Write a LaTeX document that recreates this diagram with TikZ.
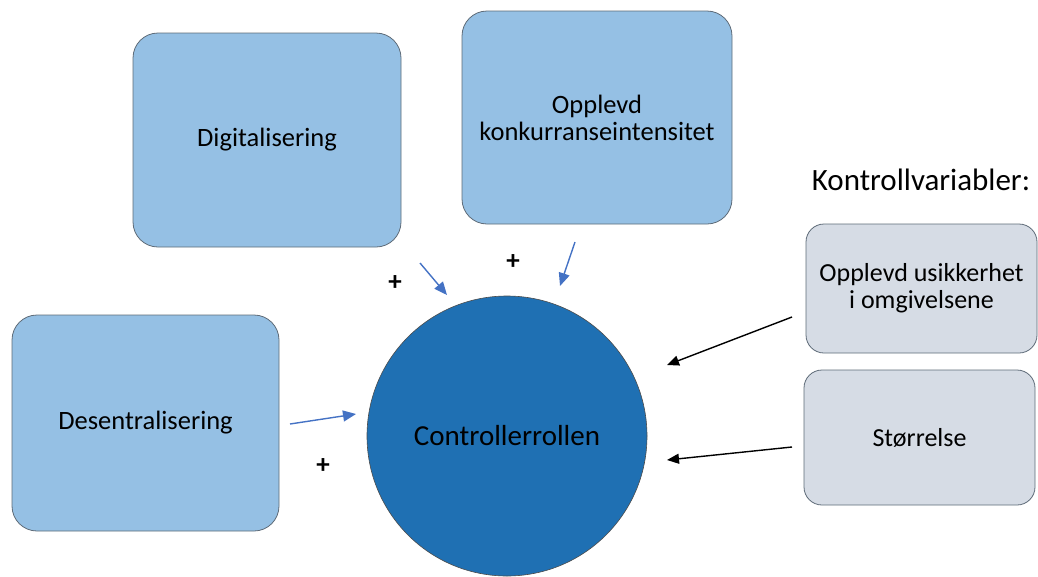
\documentclass[tikz,border=0pt]{standalone}
\usepackage{fontspec}
\setmainfont{Carlito}
\usetikzlibrary{arrows.meta}
\definecolor{boxblue}{HTML}{95C0E4}
\definecolor{boxgray}{HTML}{D6DCE5}
\definecolor{circblue}{HTML}{1F70B3}
\definecolor{arrblue}{HTML}{4472C4}
\definecolor{edgegray}{HTML}{5E6B78}
\begin{document}
\begin{tikzpicture}[x=1pt,y=-1pt,
  bluebox/.style={draw=edgegray,line width=0.8pt,fill=boxblue,rounded corners=25pt,align=center,inner sep=0pt,font=\fontsize{26.5}{27}\selectfont},
  graybox/.style={draw=edgegray,line width=0.8pt,fill=boxgray,rounded corners=18pt,align=center,inner sep=0pt,font=\fontsize{26}{27}\selectfont},
  bluearrow/.style={draw=arrblue,line width=1.4pt,-{Triangle[length=13pt,width=11pt]}},
  blackarrow/.style={draw=black,line width=1.4pt,-{Triangle[length=12pt,width=10pt]}},
  plus/.style={font=\fontsize{27}{28}\selectfont\bfseries}]
\useasboundingbox (0,0) rectangle (1038,576);
\node[bluebox,minimum width=268pt,minimum height=214pt] (dig) at (267,140) {Digitalisering};
\node[bluebox,minimum width=270pt,minimum height=213pt] (konk) at (597,117.5) {Opplevd\\konkurranseintensitet};
\node[bluebox,minimum width=267pt,minimum height=216pt] (des) at (145.5,423) {Desentralisering};
\node[graybox,minimum width=231pt,minimum height=129pt] (usik) at (921.5,288.5) {Opplevd usikkerhet\\i omgivelsene};
\node[graybox,minimum width=231pt,minimum height=135pt] (stor) at (919.5,437.5) {Størrelse};
\node[circle,draw=black!70,line width=0.6pt,fill=circblue,minimum size=280pt,inner sep=0pt,font=\fontsize{29}{30}\selectfont] (ctrl) at (507,436) {Controllerrollen};
\node[font=\fontsize{31}{32}\selectfont,anchor=base] (kv) at (921,190) {Kontrollvariabler:};
\coordinate (a1s) at (420,263); \coordinate (a1e) at (447,295);
\coordinate (a2s) at (575,242); \coordinate (a2e) at (560,286);
\coordinate (a3s) at (290,424); \coordinate (a3e) at (356,414);
\coordinate (b1s) at (792,317); \coordinate (b1e) at (667,365);
\coordinate (b2s) at (792,447); \coordinate (b2e) at (667,460);
\draw[bluearrow] (a1s) -- (a1e);
\draw[bluearrow] (a2s) -- (a2e);
\draw[bluearrow] (a3s) -- (a3e);
\draw[blackarrow] (b1s) -- (b1e);
\draw[blackarrow] (b2s) -- (b2e);
\node[plus] (p1) at (395,283) {+};
\node[plus] (p2) at (513,262) {+};
\node[plus] (p3) at (323,466) {+};
\end{tikzpicture}
\end{document}
